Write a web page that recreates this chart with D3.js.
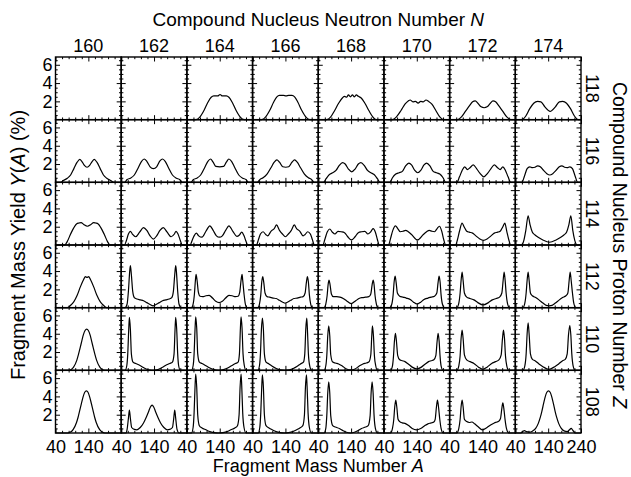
<!DOCTYPE html>
<html><head><meta charset="utf-8">
<script src="https://cdn.jsdelivr.net/npm/d3@7"></script>
<style>body{margin:0;background:#fff} text{font-family:"Liberation Sans",Arial,Helvetica,sans-serif;fill:#000}</style>
</head><body><svg id="c" width="631" height="477"></svg>
<script>
const neutronNumbers=[160,162,164,166,168,170,172,174];
const protonNumbers=[118,116,114,112,110,108];
const massTicksMajor=[40,140,240];
const massTicksMinor=[60,80,100,120,160,180,200,220];
const yieldTicksMajor=[2,4,6];
const yieldTicksMinor=[0.5,1,1.5,2.5,3,3.5,4.5,5,5.5,6.5];
const massLabels=[40,140];
const massLabelsLast=[40,140,240];
const yieldLabels=[2,4,6];

const z118=[null,null,
[[40,0],[68,0],[80,0.3],[92,1.0],[104,1.9],[114,2.45],[122,2.6],[134,2.6],[141,2.75],[148,2.6],[160,2.6],[168,2.45],[178,1.9],[190,1.0],[202,0.3],[214,0],[240,0]],
[[40,0],[68,0],[80,0.3],[92,1.0],[104,1.9],[114,2.5],[122,2.65],[134,2.65],[142,2.6],[150,2.65],[160,2.65],[168,2.5],[178,1.9],[190,1.0],[202,0.3],[214,0],[240,0]],
[[40,0],[66,0],[78,0.3],[90,1.0],[102,1.8],[114,2.4],[120,2.55],[126,2.45],[132,2.7],[138,2.5],[144,2.7],[150,2.5],[156,2.7],[162,2.55],[170,2.4],[182,1.8],[194,1.0],[206,0.3],[216,0],[240,0]],
[[40,0],[66,0],[78,0.3],[92,1.0],[104,1.7],[114,2.05],[120,2.15],[128,1.95],[136,2.0],[144,1.8],[152,2.0],[160,1.95],[168,2.15],[176,2.0],[186,1.7],[198,1.0],[210,0.3],[222,0],[240,0]],
[[40,0],[64,0],[76,0.3],[88,0.9],[100,1.5],[110,1.95],[118,2.05],[126,1.8],[136,1.4],[145,1.3],[154,1.4],[164,1.8],[172,2.05],[180,1.95],[190,1.5],[202,0.9],[214,0.3],[226,0],[240,0]],
[[40,0],[60,0],[72,0.4],[84,1.2],[96,1.8],[108,2.0],[118,1.95],[130,1.4],[146,0.9],[162,1.4],[174,1.95],[184,2.0],[196,1.8],[208,1.2],[220,0.4],[232,0],[240,0]]
];
const z116=[
[[40,0],[56,0],[64,0.2],[76,0.45],[86,0.8],[96,1.5],[106,2.2],[114,2.5],[120,2.3],[128,1.85],[136,1.65],[144,1.85],[152,2.3],[158,2.5],[166,2.2],[176,1.5],[186,0.8],[196,0.45],[208,0.2],[218,0],[240,0]],
[[40,0],[50,0],[58,0.3],[68,0.45],[80,0.8],[92,1.6],[102,2.3],[110,2.55],[118,2.3],[128,1.7],[138,1.5],[148,1.7],[158,2.35],[166,2.55],[174,2.3],[184,1.6],[196,0.8],[208,0.45],[218,0.3],[226,0],[240,0]],
[[40,0],[52,0],[60,0.3],[70,0.45],[82,0.8],[94,1.6],[104,2.3],[112,2.55],[120,2.2],[128,1.75],[140,1.7],[152,1.75],[160,2.2],[168,2.55],[176,2.3],[186,1.6],[198,0.8],[210,0.45],[220,0.3],[228,0],[240,0]],
[[40,0],[54,0],[62,0.3],[72,0.5],[84,0.9],[96,1.6],[106,2.2],[114,2.45],[122,2.2],[132,1.7],[141,1.65],[150,1.7],[160,2.2],[168,2.45],[176,2.2],[186,1.6],[198,0.9],[210,0.5],[220,0.3],[228,0],[240,0]],
[[40,0],[56,0],[64,0.4],[74,0.85],[84,1.05],[94,1.3],[104,1.85],[114,2.15],[122,2.0],[132,1.45],[142,1.15],[152,1.45],[162,2.0],[170,2.15],[180,1.85],[190,1.3],[200,1.05],[210,0.85],[220,0.4],[228,0],[240,0]],
[[40,0],[58,0],[66,0.5],[76,0.9],[86,1.05],[96,1.2],[106,1.8],[116,2.1],[124,1.9],[134,1.3],[143,1.05],[152,1.3],[162,1.9],[170,2.1],[180,1.8],[190,1.2],[200,1.05],[210,0.9],[220,0.5],[228,0],[240,0]],
[[40,0],[62,0],[70,0.6],[78,1.3],[86,1.7],[94,1.4],[102,1.6],[112,1.9],[122,1.5],[132,1.0],[144,0.6],[156,1.0],[166,1.5],[176,1.9],[186,1.6],[194,1.4],[202,1.7],[210,1.3],[218,0.6],[226,0],[240,0]],
[[40,0],[60,0],[68,0.7],[76,1.5],[84,1.7],[92,1.6],[100,1.65],[108,1.8],[116,1.7],[126,1.3],[136,0.95],[145,0.8],[154,0.95],[164,1.3],[174,1.7],[182,1.8],[190,1.65],[198,1.6],[206,1.7],[214,1.5],[222,0.7],[230,0],[240,0]]
];
const z114=[
[[40,0],[68,0],[76,0.4],[86,1.2],[96,1.9],[104,2.3],[112,2.4],[118,2.45],[126,2.25],[137,2.05],[148,2.25],[156,2.45],[162,2.4],[170,2.3],[178,1.9],[188,1.2],[198,0.4],[206,0],[240,0]],
[[40,0],[50,0],[56,0.5],[62,1.2],[68,1.5],[74,1.2],[84,0.9],[96,1.4],[108,1.9],[118,1.6],[128,1.0],[138,0.65],[148,1.0],[158,1.6],[168,1.9],[180,1.4],[192,0.9],[202,1.2],[207,1.5],[213,1.2],[220,0.5],[226,0],[240,0]],
[[40,0],[50,0],[56,0.5],[62,1.0],[69,1.3],[76,1.0],[86,0.85],[98,1.5],[110,2.1],[120,1.6],[130,1.0],[139,0.85],[148,1.0],[158,1.6],[168,2.1],[180,1.5],[192,0.95],[200,1.1],[207,1.4],[214,1.0],[220,0.4],[226,0],[240,0]],
[[40,0],[52,0],[58,0.6],[64,1.2],[72,1.45],[80,1.15],[86,1.0],[96,1.5],[106,1.8],[113,2.2],[122,1.6],[131,1.2],[140,0.9],[149,1.2],[158,1.6],[167,2.2],[174,1.8],[184,1.5],[194,1.0],[200,1.15],[208,1.45],[216,1.2],[222,0.6],[228,0],[240,0]],
[[40,0],[54,0],[60,0.6],[67,1.4],[75,1.75],[83,1.4],[91,1.2],[100,1.5],[110,1.45],[120,1.35],[130,0.9],[141,0.55],[152,0.9],[162,1.35],[172,1.45],[182,1.5],[191,1.2],[199,1.4],[207,1.8],[214,1.4],[220,0.6],[226,0],[240,0]],
[[40,0],[54,0],[60,0.7],[67,1.6],[75,2.1],[82,1.8],[90,1.45],[98,1.5],[106,1.6],[114,1.45],[124,1.15],[142,0.55],[160,1.15],[170,1.45],[178,1.6],[186,1.5],[194,1.45],[202,1.8],[209,2.05],[216,1.5],[222,0.6],[228,0],[240,0]],
[[40,0],[58,0],[64,0.6],[70,1.5],[78,2.4],[84,2.0],[92,1.5],[100,1.4],[110,1.3],[120,1.0],[132,0.65],[143,0.5],[154,0.65],[166,1.0],[176,1.3],[186,1.4],[194,1.5],[202,2.0],[208,2.4],[214,1.5],[220,0.6],[226,0],[240,0]],
[[40,0],[60,0],[66,0.5],[72,1.6],[79,3.2],[85,2.2],[92,1.4],[100,1.1],[112,0.8],[124,0.55],[144,0.3],[164,0.55],[176,0.8],[188,1.1],[196,1.4],[203,2.2],[209,3.2],[215,1.6],[221,0.5],[228,0],[240,0]]
];
const z112=[
[[40,0],[76,0],[86,0.26],[96,0.66],[106,1.35],[116,2.3],[126,3.1],[131,3.4],[136,3.3],[141,3.4],[146,3.1],[156,2.3],[166,1.35],[176,0.66],[186,0.26],[196,0],[240,0]],
[[40,0],[52,0],[58,0.4],[62,1.8],[66,4.0],[68,4.6],[71,3.6],[75,1.8],[80,1.1],[88,0.95],[98,0.85],[108,0.75],[118,0.55],[128,0.35],[137,0.2],[146,0.35],[156,0.55],[166,0.75],[176,0.85],[186,0.95],[194,1.1],[199,1.8],[203,3.6],[206,4.6],[208,4.0],[212,1.8],[216,0.4],[222,0],[240,0]],
[[40,0],[54,0],[59,0.4],[63,1.5],[66,3.0],[68,3.65],[71,3.0],[75,1.7],[80,1.25],[88,1.2],[98,1.3],[108,1.35],[118,1.05],[128,0.7],[138,0.55],[148,0.7],[158,1.05],[168,1.35],[178,1.3],[188,1.2],[196,1.25],[201,1.7],[205,3.0],[208,3.65],[210,3.0],[214,1.5],[218,0.4],[222,0],[240,0]],
[[40,0],[56,0],[61,0.4],[65,1.4],[68,2.8],[71,3.4],[74,2.8],[78,1.6],[84,1.2],[92,1.15],[102,1.05],[112,1.0],[122,0.8],[132,0.6],[139,0.5],[146,0.6],[156,0.8],[166,1.0],[176,1.05],[186,1.15],[194,1.2],[200,1.6],[204,2.8],[207,3.4],[210,2.8],[213,1.4],[217,0.4],[222,0],[240,0]],
[[40,0],[58,0],[63,0.4],[67,1.3],[70,2.5],[73,3.0],[76,2.5],[80,1.5],[86,1.2],[96,1.2],[106,1.15],[116,1.0],[126,0.75],[140,0.45],[154,0.75],[164,1.0],[174,1.1],[184,1.15],[194,1.2],[200,1.5],[204,2.5],[207,3.0],[210,2.5],[213,1.3],[217,0.4],[222,0],[240,0]],
[[40,0],[58,0],[64,0.4],[68,1.4],[71,2.8],[74,3.45],[77,2.8],[81,1.6],[88,1.25],[98,1.15],[108,1.05],[120,0.9],[130,0.6],[141,0.4],[152,0.6],[162,0.9],[174,1.05],[184,1.15],[194,1.25],[201,1.6],[205,2.8],[208,3.45],[211,2.8],[214,1.4],[218,0.4],[224,0],[240,0]],
[[40,0],[62,0],[68,0.5],[72,1.6],[75,3.0],[78,3.9],[81,3.0],[85,1.6],[92,1.15],[102,1.0],[114,0.85],[126,0.55],[142,0.3],[158,0.55],[170,0.85],[182,1.0],[192,1.15],[199,1.6],[203,3.0],[206,3.9],[209,3.0],[212,1.6],[216,0.5],[222,0],[240,0]],
[[40,0],[63,0],[69,0.5],[73,1.6],[76,3.0],[79,3.9],[82,3.0],[86,1.6],[92,1.3],[102,1.1],[112,0.85],[124,0.5],[134,0.25],[143,0.2],[152,0.25],[162,0.5],[174,0.85],[184,1.1],[194,1.3],[200,1.6],[204,3.0],[207,3.9],[210,3.0],[214,1.6],[218,0.5],[224,0],[240,0]]
];
const z110=[
[[40,0],[80,0],[88,0.1],[95,0.35],[105,1.12],[110,1.75],[115,2.45],[120,3.2],[125,3.9],[130,4.35],[135,4.5],[140,4.35],[145,3.9],[150,3.2],[155,2.45],[160,1.75],[165,1.12],[175,0.35],[182,0.1],[190,0],[240,0]],
[[40,0],[52,0],[57,0.5],[60,1.8],[63,4.5],[65,5.8],[68,4.5],[71,1.8],[76,0.9],[84,0.75],[96,0.55],[108,0.3],[118,0.12],[128,0.03],[136,0],[144,0.03],[154,0.12],[164,0.3],[176,0.55],[188,0.75],[196,0.9],[201,1.8],[204,4.5],[206,5.8],[209,4.5],[212,1.8],[215,0.5],[220,0],[240,0]],
[[40,0],[54,0],[59,0.5],[62,1.8],[65,4.6],[67,5.85],[70,4.6],[73,1.8],[78,0.9],[86,0.75],[98,0.5],[110,0.25],[120,0.1],[137,0],[154,0.1],[164,0.25],[176,0.5],[188,0.75],[196,0.9],[200,1.8],[203,4.6],[205,5.85],[208,4.6],[211,1.8],[215,0.5],[220,0],[240,0]],
[[40,0],[56,0],[61,0.5],[64,1.8],[67,4.5],[70,5.7],[73,4.5],[76,1.8],[81,0.9],[90,0.7],[100,0.45],[112,0.2],[124,0.05],[138,0],[152,0.05],[164,0.2],[176,0.45],[186,0.7],[195,0.9],[199,1.8],[202,4.5],[205,5.7],[207,4.5],[210,1.8],[214,0.5],[220,0],[240,0]],
[[40,0],[58,0],[63,0.5],[66,1.6],[69,3.8],[72,4.85],[75,3.8],[78,1.7],[84,0.9],[92,0.8],[102,0.7],[114,0.45],[126,0.15],[139,0.05],[152,0.15],[164,0.45],[176,0.7],[186,0.8],[194,0.9],[200,1.7],[203,3.8],[205,4.85],[208,3.8],[211,1.6],[215,0.5],[220,0],[240,0]],
[[40,0],[60,0],[66,0.5],[69,1.5],[72,3.2],[75,4.05],[78,3.2],[82,1.6],[88,1.15],[96,1.05],[104,0.95],[114,0.7],[126,0.35],[140,0.15],[154,0.35],[166,0.7],[176,0.95],[184,1.05],[192,1.15],[198,1.6],[202,3.2],[205,4.05],[208,3.2],[211,1.5],[214,0.5],[220,0],[240,0]],
[[40,0],[62,0],[68,0.5],[72,1.6],[75,3.5],[78,4.4],[81,3.5],[85,1.7],[92,1.15],[102,0.95],[114,0.75],[128,0.35],[141,0.1],[154,0.35],[168,0.75],[180,0.95],[190,1.15],[197,1.7],[201,3.5],[204,4.4],[207,3.5],[210,1.6],[214,0.5],[220,0],[240,0]],
[[40,0],[63,0],[69,0.5],[73,1.8],[76,4.0],[79,5.2],[82,4.0],[86,1.8],[92,1.2],[100,1.05],[112,0.7],[124,0.4],[142,0.1],[160,0.4],[172,0.7],[184,1.05],[192,1.2],[198,1.8],[202,3.9],[206,4.9],[209,3.9],[212,1.8],[216,0.5],[222,0],[240,0]]
];
const z108=[
[[40,0],[78,0],[86,0.1],[94,0.4],[104,1.15],[109,1.75],[114,2.5],[119,3.25],[124,3.95],[129,4.45],[134,4.6],[139,4.45],[144,3.95],[149,3.25],[154,2.5],[159,1.75],[164,1.15],[174,0.4],[182,0.1],[190,0],[240,0]],
[[40,0],[54,0],[58,0.4],[62,1.6],[65,2.5],[68,1.6],[72,0.6],[80,0.4],[88,0.35],[98,0.6],[108,1.1],[116,1.7],[123,2.3],[129,2.85],[134,3.05],[139,2.85],[145,2.3],[152,1.7],[160,1.1],[170,0.6],[180,0.35],[188,0.4],[196,0.6],[200,1.6],[203,2.5],[206,1.6],[210,0.4],[216,0],[240,0]],
[[40,0],[54,0],[59,0.6],[62,2.2],[65,5.2],[67,6.45],[70,5.0],[73,2.0],[78,0.8],[86,0.55],[98,0.35],[110,0.15],[122,0.05],[136,0],[150,0.05],[162,0.15],[174,0.35],[186,0.55],[194,0.8],[199,2.0],[202,5.0],[205,6.45],[207,5.2],[210,2.2],[214,0.6],[220,0],[240,0]],
[[40,0],[57,0],[62,0.6],[65,2.2],[68,5.1],[70,6.35],[73,5.0],[76,2.0],[81,0.8],[90,0.55],[100,0.35],[112,0.15],[124,0.05],[137,0],[150,0.05],[162,0.15],[174,0.35],[184,0.55],[193,0.8],[198,2.0],[201,5.0],[204,6.35],[206,5.1],[209,2.2],[213,0.6],[219,0],[240,0]],
[[40,0],[58,0],[63,0.5],[66,1.9],[69,4.4],[72,5.6],[75,4.4],[78,1.9],[84,0.8],[92,0.65],[104,0.5],[116,0.25],[126,0.08],[138,0],[150,0.08],[160,0.25],[172,0.5],[184,0.65],[192,0.8],[198,1.9],[201,4.4],[204,5.6],[207,4.4],[210,1.9],[214,0.5],[220,0],[240,0]],
[[40,0],[60,0],[66,0.5],[70,1.5],[73,2.9],[76,3.6],[79,2.9],[83,1.5],[88,1.25],[96,1.1],[104,1.05],[114,0.85],[126,0.5],[139,0.35],[152,0.5],[164,0.8],[174,1.0],[184,1.1],[192,1.2],[196,1.5],[200,2.9],[203,3.6],[206,2.9],[210,1.5],[214,0.5],[220,0],[240,0]],
[[40,0],[62,0],[68,0.5],[72,1.5],[75,2.9],[78,3.6],[81,2.9],[85,1.5],[92,1.25],[100,1.15],[108,1.2],[116,1.0],[126,0.7],[140,0.35],[154,0.6],[166,0.9],[176,1.1],[184,1.2],[190,1.3],[195,1.6],[199,2.7],[202,3.3],[205,2.7],[209,1.4],[213,0.5],[220,0],[240,0]],
[[40,0],[56,0],[62,0.15],[68,0.25],[74,0.15],[82,0.1],[92,0.2],[102,0.5],[110,1.05],[116,1.7],[121,2.4],[126,3.2],[131,3.95],[136,4.45],[141,4.6],[146,4.45],[151,3.95],[156,3.2],[161,2.4],[166,1.7],[172,1.05],[180,0.5],[190,0.2],[198,0.15],[205,0.35],[210,0.5],[215,0.3],[222,0],[240,0]]
];
const yieldsByZ=[z118,z116,z114,z112,z110,z108];

const svg=d3.select("#c");
const plot={left:55.5,right:581,top:57,bottom:433};
const col=d3.scaleBand().domain(neutronNumbers).range([plot.left,plot.right]);
const row=d3.scaleBand().domain(protonNumbers).range([plot.top,plot.bottom]);
const pw=col.bandwidth(), ph=row.bandwidth();
const x=d3.scaleLinear().domain([40,240]).range([0,pw]);
const y=d3.scaleLinear().domain([0,6.85]).range([ph,0]);
const line=d3.line().x(d=>x(d[0])).y(d=>y(d[1])).curve(d3.curveMonotoneX);
const FS=18;

function tickAxis(g,axis){g.call(axis).call(s=>s.select(".domain").remove()).selectAll("line").attr("stroke","#000").attr("stroke-width",1);}

protonNumbers.forEach((Z,ri)=>{
  neutronNumbers.forEach((N,ci)=>{
    const g=svg.append("g").attr("transform",`translate(${col(N)},${row(Z)})`);
    [[massTicksMinor,2.2],[massTicksMajor,4.5]].forEach(([tv,s])=>{
      g.append("g").attr("transform",`translate(0,${ph})`).call(gg=>tickAxis(gg,d3.axisBottom(x).tickValues(tv).tickSize(-s).tickFormat("")));
      g.append("g").call(gg=>tickAxis(gg,d3.axisTop(x).tickValues(tv).tickSize(-s).tickFormat("")));
    });
    [[yieldTicksMinor,2.2],[yieldTicksMajor,4.5]].forEach(([tv,s])=>{
      g.append("g").call(gg=>tickAxis(gg,d3.axisLeft(y).tickValues(tv).tickSize(-s).tickFormat("")));
      g.append("g").attr("transform",`translate(${pw},0)`).call(gg=>tickAxis(gg,d3.axisRight(y).tickValues(tv).tickSize(-s).tickFormat("")));
    });
    g.append("rect").attr("width",pw).attr("height",ph).attr("fill","none").attr("stroke","#000").attr("stroke-width",1.4);
    const data=yieldsByZ[ri][ci];
    if(data) g.append("path").datum(data).attr("d",line).attr("fill","none").attr("stroke","#000").attr("stroke-width",1.2).attr("stroke-linejoin","round");
    if(ri===protonNumbers.length-1){
      const ax=g.append("g").attr("transform",`translate(0,${ph})`).call(d3.axisBottom(x).tickValues(ci===neutronNumbers.length-1?massLabelsLast:massLabels).tickSize(0).tickPadding(7).tickFormat(d=>String(d)));
      ax.select(".domain").remove();
      ax.selectAll("text").attr("font-size",FS).attr("font-family",null);
    }
    if(ci===0){
      const ay=g.append("g").call(d3.axisLeft(y).tickValues(yieldLabels).tickSize(0).tickPadding(3).tickFormat(d=>String(d)));
      ay.select(".domain").remove();
      ay.selectAll("text").attr("font-size",FS).attr("font-family",null);
    }
  });
});

svg.append("g").selectAll("text").data(neutronNumbers).join("text")
  .attr("x",d=>col(d)+pw/2).attr("y",52).attr("text-anchor","middle").attr("font-size",FS).text(d=>d);
svg.append("g").selectAll("text").data(protonNumbers).join("text")
  .attr("transform",d=>`translate(592,${row(d)+ph/2}) rotate(90)`).attr("text-anchor","middle").attr("dy","0.35em").attr("font-size",FS).text(d=>d);

function title(t,parts){parts.forEach(([s,it])=>t.append("tspan").attr("font-style",it?"italic":null).text(s));}
title(svg.append("text").attr("x",(plot.left+plot.right)/2).attr("y",26).attr("text-anchor","middle").attr("font-size",19),
  [["Compound Nucleus Neutron Number ",0],["N",1]]);
title(svg.append("text").attr("x",(plot.left+plot.right)/2).attr("y",472).attr("text-anchor","middle").attr("font-size",18),
  [["Fragment Mass Number ",0],["A",1]]);
title(svg.append("text").attr("transform",`translate(18,${(plot.top+plot.bottom)/2}) rotate(-90)`).attr("text-anchor","middle").attr("dy","0.35em").attr("font-size",20),
  [["Fragment Mass Yield ",0],["Y",1],["(",0],["A",1],[") (%)",0]]);
title(svg.append("text").attr("transform",`translate(620,${(plot.top+plot.bottom)/2}) rotate(90)`).attr("text-anchor","middle").attr("dy","0.35em").attr("font-size",19.5),
  [["Compound Nucleus Proton Number ",0],["Z",1]]);
</script></body></html>
